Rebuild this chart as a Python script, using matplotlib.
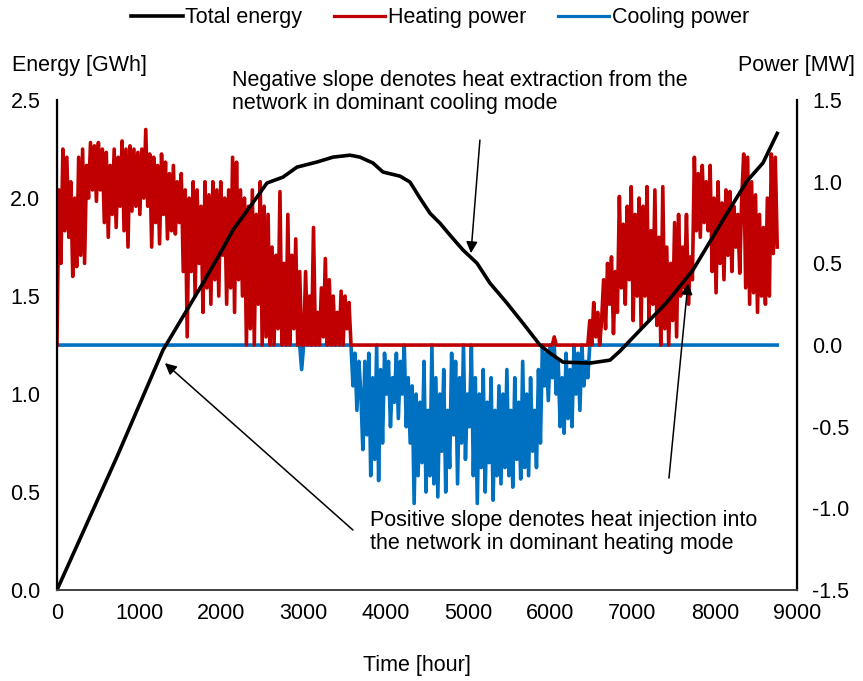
import numpy as np
import matplotlib
matplotlib.use("Agg")
from matplotlib import pyplot as plt

plt.rcParams['font.family'] = ['Liberation Sans', 'DejaVu Sans']
plt.rcParams['font.size'] = 15.5

# total energy curve (hour, GWh)
energy_hour = [0, 730, 1289, 1581, 1776, 2007, 2141, 2432, 2554, 2749, 2919, 3162, 3357,
               3564, 3685, 3843, 3965, 4172, 4293, 4415, 4536, 4658, 4780, 4938, 5108,
               5266, 5473, 5667, 5874, 5996, 6154, 6482, 6726, 6847, 7127, 7419, 7735,
               8100, 8392, 8586, 8760]
energy_gwh = [0.0, 0.68, 1.224, 1.429, 1.566, 1.735, 1.837, 2.005, 2.077, 2.107, 2.158,
              2.184, 2.209, 2.219, 2.209, 2.179, 2.133, 2.112, 2.082, 2.0, 1.923, 1.872,
              1.811, 1.735, 1.668, 1.566, 1.464, 1.362, 1.25, 1.209, 1.163, 1.158, 1.173,
              1.219, 1.342, 1.469, 1.633, 1.888, 2.087, 2.179, 2.33]

# network power sampled every 24 h (MW), + heating / - cooling
power_mw = [
    0.0, 0.95, 0.5,
    1.2, 0.7, 1.15, 0.66,
    1.0, 0.42, 0.9,
    0.48, 1.15, 0.55, 1.2, 0.5, 1.1,
    0.9, 1.24, 0.95, 1.22, 0.88, 1.24, 0.95,
    1.2, 0.75, 1.18, 0.66, 1.1, 0.8, 1.2, 0.72, 1.15, 0.85,
    1.25, 0.7, 1.2, 0.6, 1.22,
    0.82, 1.2, 0.85, 1.18, 0.8, 1.2, 0.9, 1.32,
    0.85, 1.17, 0.6, 1.15, 0.75, 1.1, 0.62, 1.17, 0.8,
    1.12, 0.65, 1.05, 0.7, 1.1, 0.68, 1.0, 0.75,
    1.05, 0.45, 0.95, 0.05,
    0.9, 0.45, 1.0, 0.3, 0.95, 0.5, 0.85, 0.2, 1.0, 0.35, 0.92, 0.25, 1.0,
    0.4, 0.95, 0.3, 1.0, 0.55, 0.9, 0.25, 0.95,
    0.35, 1.15, 0.2, 1.12, 0.4,
    0.95, 0.3, 0.9, 0.0, 0.85, 0.1, 0.95, 0.0, 0.8, 0.25,
    1.0, 0.0, 0.85, 0.05, 0.8,
    0.0, 0.6, 0.0, 0.55, 0.1, 0.94, 0.0, 0.5, 0.0,
    0.8, 0.0, 0.55, 0.1, 0.65, 0.0, 0.45, -0.15, 0.0,
    0.45, 0.0, 0.3, 0.0,
    0.72, 0.0, 0.2, 0.0, 0.35, 0.05, 0.53, 0.0, 0.4,
    0.0, 0.3, 0.0, 0.2, 0.0, 0.33, 0.0, 0.3, 0.1, 0.26,
    0.0,
    -0.25, -0.05, -0.4, -0.1, -0.3, -0.64,
    -0.1, -0.55, -0.05, -0.8, -0.2, -0.7, 0.0, -0.83, -0.15, -0.6,
    -0.05, -0.3, -0.1, -0.5, -0.2, -0.35, -0.05, -0.45, -0.1, -0.3, 0.0, -0.5,
    -0.2, -0.6, -0.25, -0.97, -0.3, -0.8, -0.35,
    -0.72, -0.1, -0.9, -0.4, -0.8, 0.0, -0.85,
    -0.2, -0.93, -0.3, -0.65, -0.15, -0.9, -0.4, -0.75,
    -0.05, -0.55, -0.1, -0.85, -0.2, -0.6, 0.0, -0.7, -0.3, -0.5, 0.0, -0.8,
    -0.2, -0.97, -0.3, -0.75, -0.15, -0.9, -0.35, -0.72, -0.2, -0.95, -0.4, -0.8, -0.25,
    -0.85, -0.3, -0.75, -0.15, -0.8, -0.4, -0.87, -0.2, -0.7, -0.35, -0.82, -0.1, -0.75,
    -0.3, -0.8, -0.2, -0.65, -0.4, -0.75, -0.15, -0.6,
    0.0, -0.25, -0.05, -0.34, 0.0, -0.2, 0.05, -0.3,
    -0.1, -0.5, -0.2, -0.54, -0.05, -0.45, -0.15, -0.5, 0.0,
    -0.3, -0.05, -0.4, 0.0, -0.25, -0.1, -0.2,
    0.15, 0.0, 0.26, 0.05, 0.2, 0.0, 0.15,
    0.4, 0.1, 0.5, 0.25, 0.54, 0.07, 0.45,
    0.2, 0.91, 0.35, 0.74, 0.25, 0.85, 0.4,
    0.97, 0.15, 0.8, 0.3, 0.9, 0.11, 0.85, 0.3,
    0.97, 0.15, 0.7, 0.25, 0.95, 0.12, 0.66,
    0.0, 0.97, 0.1, 0.6, 0.0, 0.5, 0.15, 0.75, 0.05,
    0.8, 0.3, 0.6, 0.35, 0.8, 0.25, 0.54, 0.4,
    1.15, 0.7, 1.05, 0.66, 1.1, 0.75, 1.0, 0.7,
    1.1, 0.45, 0.9, 0.32, 1.0, 0.5, 0.87, 0.4, 0.95,
    0.55, 0.94, 0.45, 0.85, 0.6, 0.8, 0.44, 0.9,
    1.17, 0.35, 1.15, 0.25, 1.0,
    0.32, 0.92, 0.2, 0.8, 0.3, 0.72, 0.25, 0.9, 0.3,
    1.17, 0.56, 1.15,
    0.6,
]
power_mw = np.array(power_mw)
power_hour = 24 * np.arange(len(power_mw))
heating = np.where(power_mw > 0, power_mw, 0.0)
cooling = np.where(power_mw < 0, power_mw, 0.0)

fig = plt.figure(figsize=(8.63, 6.81), dpi=100)
ax = fig.add_axes([0.066, 0.1336, 0.8575, 0.7194])
ax2 = ax.twinx()

ax2.plot(power_hour, cooling, color='#0070C0', lw=2.6, label='Cooling power')
ax2.plot(power_hour, heating, color='#C00000', lw=2.6, label='Heating power')
ax.plot(energy_hour, energy_gwh, color='black', lw=2.6, label='Total energy')

ax.set_zorder(ax2.get_zorder() + 1)
ax.patch.set_visible(False)

ax.set_xlim(0, 9000)
ax.set_ylim(0, 2.5)
ax2.set_ylim(-1.5, 1.5)
ax.set_xticks(np.arange(0, 9001, 1000))
ax.set_yticks(np.arange(0, 2.51, 0.5))
ax2.set_yticks(np.arange(-1.5, 1.51, 0.5))
ax.yaxis.set_major_formatter(matplotlib.ticker.FormatStrFormatter('%.1f'))
ax2.yaxis.set_major_formatter(matplotlib.ticker.FormatStrFormatter('%.1f'))
ax.tick_params(axis='x', length=0, pad=9)
ax.tick_params(axis='y', length=0, pad=12)
ax2.tick_params(axis='y', length=0, pad=11)

for a in (ax, ax2):
    a.spines['top'].set_visible(False)
ax.spines['left'].set_linewidth(1.6)
ax2.spines['right'].set_linewidth(1.6)
ax.spines['bottom'].set_color('#404040')
ax.spines['bottom'].set_linewidth(1.4)
ax2.spines['bottom'].set_visible(False)

fig.text(12 / 863, 1 - 66 / 681, 'Energy [GWh]', ha='left', va='center')
fig.text(855 / 863, 1 - 66 / 681, 'Power [MW]', ha='right', va='center')
fig.text(417 / 863, 1 - 665 / 681, 'Time [hour]', ha='center', va='center')

# annotations
ax.text(2128, 2.655, 'Negative slope denotes heat extraction from the\nnetwork in dominant cooling mode',
        ha='left', va='top', linespacing=1.15, clip_on=False)
ax.text(3807, 0.41, 'Positive slope denotes heat injection into\nthe network in dominant heating mode',
        ha='left', va='top', linespacing=1.15)
arrow = dict(arrowstyle='-|>', color='black', lw=1.1, mutation_scale=17, shrinkA=0, shrinkB=0)
ax.annotate('', xy=(1313, 1.158), xytext=(3600, 0.306), arrowprops=arrow)
ax.annotate('', xy=(7674, 1.566), xytext=(7443, 0.571), arrowprops=arrow)
ax.annotate('', xy=(5035, 1.719), xytext=(5144, 2.296), arrowprops=arrow)

h1, = ax.plot([], [], color='black', lw=2.6)
h2, = ax.plot([], [], color='#C00000', lw=2.3)
h3, = ax.plot([], [], color='#0070C0', lw=2.3)
fig.legend([h1, h2, h3], ['Total energy', 'Heating power', 'Cooling power'],
           loc='center', bbox_to_anchor=(0.51, 1 - 18 / 681), ncol=3, frameon=False,
           handlelength=2.4, handletextpad=0.12, columnspacing=1.45)

fig.savefig('out.png', dpi=100)
